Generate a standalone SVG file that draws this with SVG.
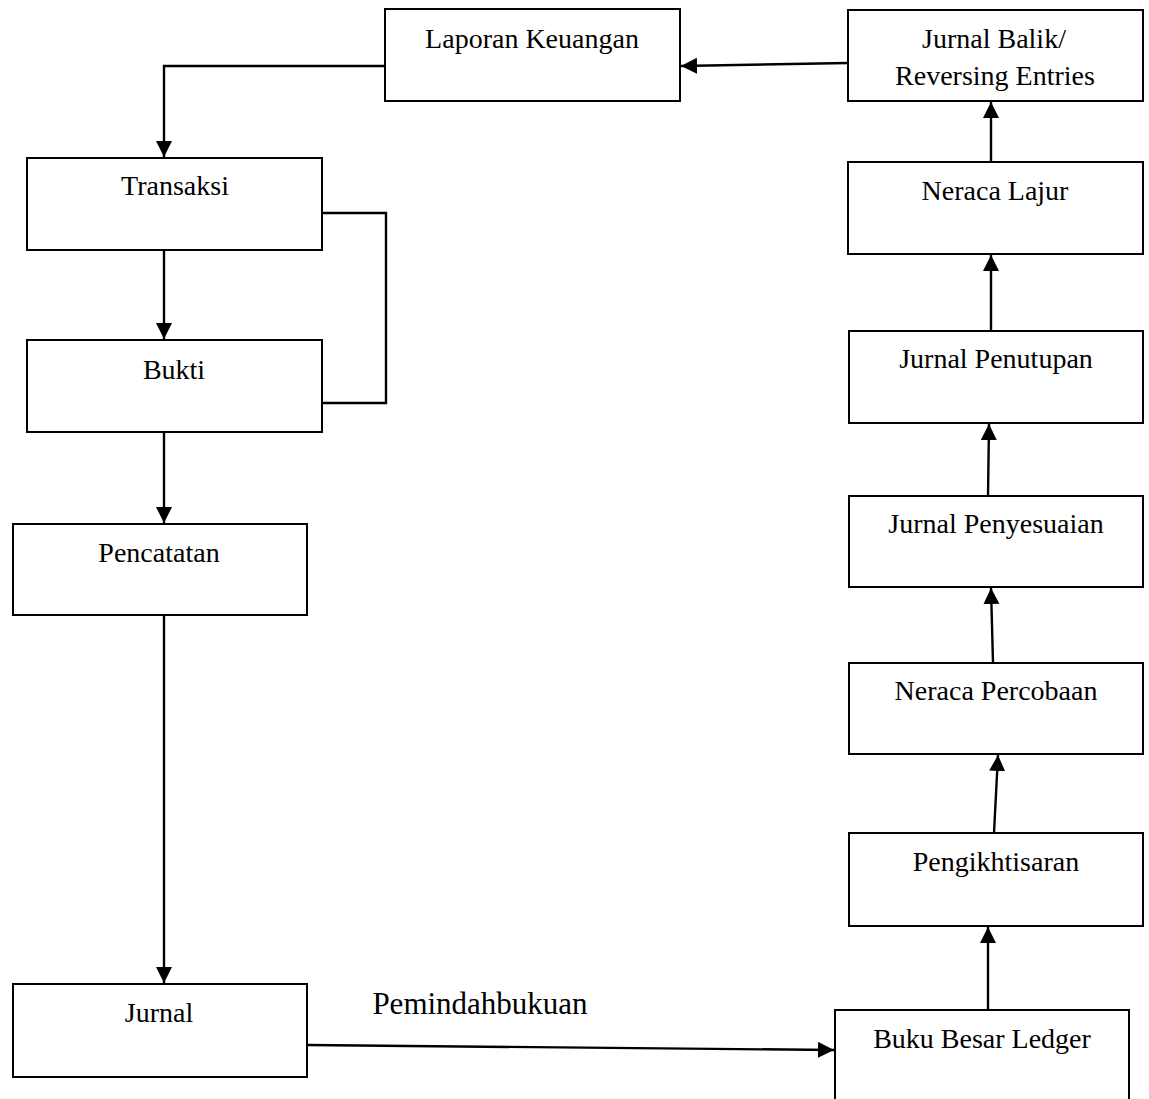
<svg xmlns="http://www.w3.org/2000/svg" width="1149" height="1099" viewBox="0 0 1149 1099">
<style>
.box{fill:#fff;stroke:#000;stroke-width:2}
.lbl{font-family:"Liberation Serif","Times New Roman",serif;font-size:28px;fill:#000;text-anchor:middle}
.edge{fill:none;stroke:#000;stroke-width:2.4}
</style>
<defs>
<marker id="ah" markerUnits="userSpaceOnUse" markerWidth="18" markerHeight="18" refX="16" refY="8" orient="auto">
<path d="M0,0 L16,8 L0,16 z" fill="#000"/>
</marker>
</defs>
<rect width="1149" height="1099" fill="#fff"/>
<g id="connectors">
<polyline class="edge" points="385,66 164,66 164,157" marker-end="url(#ah)"/>
<line class="edge" x1="164" y1="250" x2="164" y2="339" marker-end="url(#ah)"/>
<polyline class="edge" points="322,213 386,213 386,403 322,403"/>
<line class="edge" x1="164" y1="432" x2="164" y2="523" marker-end="url(#ah)"/>
<line class="edge" x1="164" y1="613" x2="164" y2="983" marker-end="url(#ah)"/>
<line class="edge" x1="307" y1="1045" x2="834" y2="1050" marker-end="url(#ah)"/>
<line class="edge" x1="988" y1="1010" x2="988" y2="927" marker-end="url(#ah)"/>
<line class="edge" x1="994" y1="833" x2="998" y2="755" marker-end="url(#ah)"/>
<line class="edge" x1="993" y1="663" x2="991" y2="588" marker-end="url(#ah)"/>
<line class="edge" x1="988" y1="496" x2="989" y2="424" marker-end="url(#ah)"/>
<line class="edge" x1="991" y1="331" x2="991" y2="255" marker-end="url(#ah)"/>
<line class="edge" x1="991" y1="162" x2="991" y2="102" marker-end="url(#ah)"/>
<line class="edge" x1="848" y1="63" x2="681" y2="66" marker-end="url(#ah)"/>
<text x="480" y="1014" style="font-family:'Liberation Serif','Times New Roman',serif;font-size:31px;text-anchor:middle">Pemindahbukuan</text>
</g>
<g id="laporan"><rect class="box" x="385" y="9" width="295" height="92"/><text class="lbl" x="532" y="48">Laporan Keuangan</text></g>
<g id="jurnal-balik"><rect class="box" x="848" y="10" width="295" height="91"/><text class="lbl" x="994" y="48">Jurnal Balik/</text><text class="lbl" x="995" y="85">Reversing Entries</text></g>
<g id="transaksi"><rect class="box" x="27" y="158" width="295" height="92"/><text class="lbl" x="175" y="195">Transaksi</text></g>
<g id="bukti"><rect class="box" x="27" y="340" width="295" height="92"/><text class="lbl" x="174" y="379">Bukti</text></g>
<g id="pencatatan"><rect class="box" x="13" y="524" width="294" height="91"/><text class="lbl" x="159" y="562">Pencatatan</text></g>
<g id="jurnal"><rect class="box" x="13" y="984" width="294" height="93"/><text class="lbl" x="159" y="1022">Jurnal</text></g>
<g id="buku-besar"><rect class="box" x="835" y="1010" width="294" height="120"/><text class="lbl" x="982" y="1048">Buku Besar Ledger</text></g>
<g id="pengikhtisaran"><rect class="box" x="849" y="833" width="294" height="93"/><text class="lbl" x="996" y="871">Pengikhtisaran</text></g>
<g id="neraca-percobaan"><rect class="box" x="849" y="663" width="294" height="91"/><text class="lbl" x="996" y="700">Neraca Percobaan</text></g>
<g id="jurnal-penyesuaian"><rect class="box" x="849" y="496" width="294" height="91"/><text class="lbl" x="996" y="533">Jurnal Penyesuaian</text></g>
<g id="jurnal-penutupan"><rect class="box" x="849" y="331" width="294" height="92"/><text class="lbl" x="996" y="368">Jurnal Penutupan</text></g>
<g id="neraca-lajur"><rect class="box" x="848" y="162" width="295" height="92"/><text class="lbl" x="995" y="200">Neraca Lajur</text></g>
</svg>
